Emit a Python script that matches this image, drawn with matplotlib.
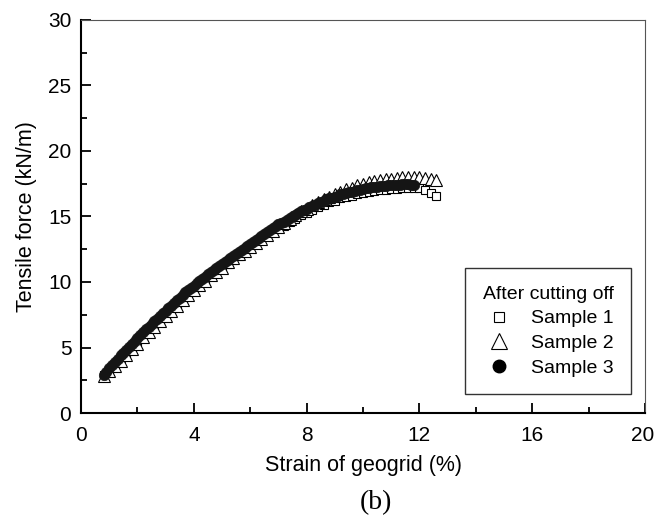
import matplotlib.pyplot as plt
import matplotlib.transforms as mtransforms
from matplotlib.lines import Line2D

plt.rcParams['font.family'] = ['Liberation Sans', 'DejaVu Sans']

# strain (%) and tensile force (kN/m)
strain_s1 = [0.8, 1.0, 1.2, 1.4, 1.6, 1.8, 2.0, 2.2, 2.4, 2.6, 2.8, 3.0, 3.2, 3.4, 3.6, 3.8,
             4.0, 4.2, 4.4, 4.6, 4.8, 5.0, 5.2, 5.4, 5.6, 5.8, 6.0, 6.2, 6.4, 6.6, 6.8, 7.0,
             7.2, 7.4, 7.6, 7.8, 8.0, 8.2, 8.4, 8.6, 8.8, 9.0, 9.2, 9.4, 9.6, 9.8, 10.0, 10.2,
             10.4, 10.6, 10.8, 11.0, 11.2, 11.4, 11.6, 11.8, 12.0, 12.2, 12.4, 12.6]
force_s1 = [2.9, 3.3, 3.7, 4.2, 4.6, 5.0, 5.4, 5.9, 6.3, 6.7, 7.1, 7.5, 7.9, 8.3, 8.7, 9.0,
            9.4, 9.8, 10.1, 10.5, 10.8, 11.1, 11.4, 11.7, 12.0, 12.3, 12.6, 12.9, 13.2, 13.5, 13.8, 14.1,
            14.3, 14.6, 14.8, 15.1, 15.3, 15.5, 15.7, 15.9, 16.1, 16.2, 16.4, 16.5, 16.6, 16.7, 16.8, 16.9,
            16.95, 17.0, 17.05, 17.1, 17.1, 17.15, 17.15, 17.2, 17.2, 17.05, 16.8, 16.55]

strain_s2 = [0.8, 1.0, 1.2, 1.4, 1.6, 1.8, 2.0, 2.2, 2.4, 2.6, 2.8, 3.0, 3.2, 3.4, 3.6, 3.8,
             4.0, 4.2, 4.4, 4.6, 4.8, 5.0, 5.2, 5.4, 5.6, 5.8, 6.0, 6.2, 6.4, 6.6, 6.8, 7.0,
             7.2, 7.4, 7.6, 7.8, 8.0, 8.2, 8.4, 8.6, 8.8, 9.0, 9.2, 9.4, 9.6, 9.8, 10.0, 10.2,
             10.4, 10.6, 10.8, 11.0, 11.2, 11.4, 11.6, 11.8, 12.0, 12.2, 12.4, 12.6]
force_s2 = [2.8, 3.2, 3.6, 4.0, 4.4, 4.9, 5.3, 5.8, 6.2, 6.6, 7.0, 7.4, 7.8, 8.2, 8.6, 9.0,
            9.4, 9.8, 10.1, 10.5, 10.8, 11.1, 11.5, 11.8, 12.1, 12.4, 12.7, 13.0, 13.3, 13.6, 13.9, 14.2,
            14.5, 14.8, 15.1, 15.4, 15.6, 15.9, 16.1, 16.3, 16.5, 16.7, 16.9, 17.1, 17.2, 17.4, 17.5, 17.6,
            17.7, 17.8, 17.85, 17.9, 17.95, 18.0, 18.0, 18.0, 18.0, 17.95, 17.85, 17.75]

strain_s3 = [0.8, 0.9, 1.0, 1.1, 1.2, 1.3, 1.4, 1.5, 1.6, 1.7, 1.8, 1.9, 2.0, 2.1, 2.2, 2.3,
             2.4, 2.5, 2.6, 2.7, 2.8, 2.9, 3.0, 3.1, 3.2, 3.3, 3.4, 3.5, 3.6, 3.7, 3.8, 3.9,
             4.0, 4.1, 4.2, 4.3, 4.4, 4.5, 4.6, 4.7, 4.8, 4.9, 5.0, 5.1, 5.2, 5.3, 5.4, 5.5,
             5.6, 5.7, 5.8, 5.9, 6.0, 6.1, 6.2, 6.3, 6.4, 6.5, 6.6, 6.7, 6.8, 6.9, 7.0, 7.1,
             7.2, 7.3, 7.4, 7.5, 7.6, 7.7, 7.8, 7.9, 8.0, 8.1, 8.2, 8.3, 8.4, 8.5, 8.6, 8.7,
             8.8, 8.9, 9.0, 9.1, 9.2, 9.3, 9.4, 9.5, 9.6, 9.7, 9.8, 9.9, 10.0, 10.1, 10.2, 10.3,
             10.4, 10.5, 10.6, 10.7, 10.8, 10.9, 11.0, 11.1, 11.2, 11.3, 11.4, 11.5, 11.6, 11.7, 11.8]
force_s3 = [2.9, 3.15, 3.4, 3.65, 3.9, 4.15, 4.4, 4.6, 4.8, 5.05, 5.3, 5.5, 5.7, 5.95, 6.2, 6.4,
            6.6, 6.8, 7.0, 7.2, 7.4, 7.6, 7.8, 8.0, 8.2, 8.4, 8.6, 8.8, 9.0, 9.2, 9.4, 9.55,
            9.7, 9.9, 10.1, 10.25, 10.4, 10.6, 10.8, 10.95, 11.1, 11.25, 11.4, 11.55, 11.7, 11.85, 12.0, 12.15,
            12.3, 12.45, 12.6, 12.75, 12.9, 13.05, 13.2, 13.35, 13.5, 13.65, 13.8, 13.95, 14.1, 14.25, 14.4, 14.5,
            14.6, 14.75, 14.9, 15.0, 15.1, 15.25, 15.4, 15.5, 15.6, 15.7, 15.8, 15.9, 16.0, 16.1, 16.2, 16.3,
            16.4, 16.45, 16.5, 16.6, 16.7, 16.75, 16.8, 16.85, 16.9, 16.95, 17.0, 17.05, 17.1, 17.15, 17.2, 17.22,
            17.25, 17.28, 17.3, 17.32, 17.35, 17.38, 17.4, 17.4, 17.4, 17.42, 17.45, 17.45, 17.45, 17.42, 17.4]

labels = ["Sample 1", "Sample 2", "Sample 3"]

fig = plt.figure(figsize=(6.55, 5.18), dpi=100)
ax = fig.add_axes([0.1237, 0.2027, 0.861, 0.7587])

ax.plot(strain_s1, force_s1, linestyle='none', marker='s', ms=6, mfc='white', mec='black', mew=0.8)
ax.plot(strain_s2, force_s2, linestyle='none', marker='^', ms=8, mfc='white', mec='black', mew=0.8)
ax.plot(strain_s3, force_s3, linestyle='none', marker='o', ms=7.5, mfc='#151515', mec='#151515', mew=0.5)

ax.set_xlim(0, 20)
ax.set_ylim(0, 30)
ax.set_xticks([0, 4, 8, 12, 16, 20])
ax.set_xticks([2, 6, 10, 14, 18], minor=True)
ax.set_yticks([0, 5, 10, 15, 20, 25, 30])
ax.set_yticks([2.5, 7.5, 12.5, 17.5, 22.5, 27.5], minor=True)
ax.tick_params(which='both', direction='in', top=False, right=False, labelsize=15, width=1.3, pad=7)
ax.tick_params(axis='x', which='both', pad=9)
ax.tick_params(which='major', length=7)
ax.tick_params(which='minor', length=4)

# last x label sits right at the figure edge; nudge it in a little
last = ax.get_xticklabels()[-1]
last.set_transform(last.get_transform() + mtransforms.ScaledTranslation(-2 / 72, 0, fig.dpi_scale_trans))

for side in ['left', 'bottom']:
    ax.spines[side].set_linewidth(1.5)
for side in ['top', 'right']:
    ax.spines[side].set_linewidth(0.8)
    ax.spines[side].set_color('#555555')

ax.set_xlabel("Strain of geogrid (%)", fontsize=15.5, labelpad=7.5)
ax.set_ylabel("Tensile force (kN/m)", fontsize=15.5, labelpad=8)

handles = [
    Line2D([], [], linestyle='none', marker='s', ms=7, mfc='white', mec='black', mew=0.8),
    Line2D([], [], linestyle='none', marker='^', ms=12, mfc='white', mec='black', mew=0.8),
    Line2D([], [], linestyle='none', marker='o', ms=9, mfc='black', mec='black'),
]
leg = ax.legend(handles, labels, title="After cutting off", loc='lower right',
                bbox_to_anchor=(0.975, 0.048), borderaxespad=0, fontsize=14,
                title_fontsize=14, frameon=True, fancybox=False, edgecolor='black',
                handlelength=1.5, handletextpad=0.9, labelspacing=0.36,
                alignment='right', borderpad=0.9)
leg.get_frame().set_linewidth(1.0)

fig.text(0.574, 0.029, "(b)", fontsize=20, family='Liberation Serif', ha='center', va='center')

plt.savefig("out.png", dpi=100)
